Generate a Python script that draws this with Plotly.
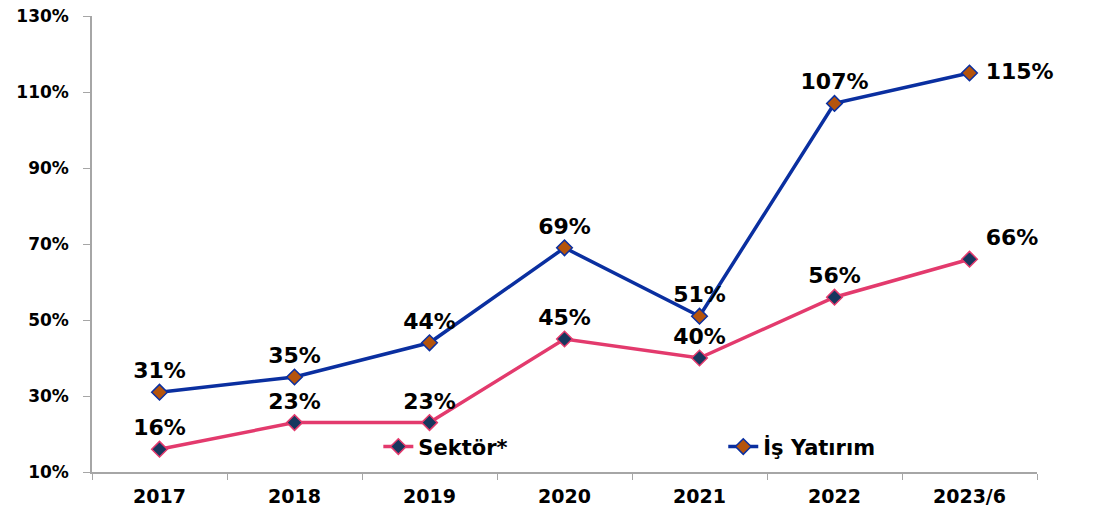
import plotly.graph_objects as go

years = ["2017", "2018", "2019", "2020", "2021", "2022", "2023/6"]
sektor = [16, 23, 23, 45, 40, 56, 66]
is_yatirim = [31, 35, 44, 69, 51, 107, 115]
y_ticks = [10, 30, 50, 70, 90, 110, 130]

FONT = "Verdana, DejaVu Sans, sans-serif"
PINK = "#E33A6D"
NAVY = "#17375E"
BLUE = "#0A2FA0"
ORANGE = "#B5540C"

sek_pos = ["top center"] * 6 + ["top right"]
is_pos = ["top center"] * 6 + ["middle right"]
LBL = dict(family=FONT, size=22, color="black", weight="bold")


def labels(vals):
    out = [f"{v}%" for v in vals]
    out[-1] = "\u00a0" + out[-1]
    return out


fig = go.Figure()
fig.add_trace(go.Scatter(
    x=years, y=sektor, name="Sektör*", mode="lines+markers+text",
    line=dict(color=PINK, width=3.5),
    marker=dict(symbol="diamond", size=12, color=NAVY, line=dict(color=PINK, width=1.5)),
    text=labels(sektor), textposition=sek_pos, textfont=LBL,
    cliponaxis=False, legend="legend",
))
fig.add_trace(go.Scatter(
    x=years, y=is_yatirim, name="İş Yatırım", mode="lines+markers+text",
    line=dict(color=BLUE, width=3.5),
    marker=dict(symbol="diamond", size=12, color=ORANGE, line=dict(color=BLUE, width=1.5)),
    text=labels(is_yatirim), textposition=is_pos, textfont=LBL,
    cliponaxis=False, legend="legend2",
))

LEG = dict(
    orientation="h", yanchor="middle", y=0.055, xanchor="left",
    font=dict(family=FONT, size=21, color="black", weight="bold"),
    bgcolor="rgba(0,0,0,0)",
)

fig.update_layout(
    width=1093, height=515,
    margin=dict(l=92, r=56, t=16, b=43, autoexpand=False),
    plot_bgcolor="white", paper_bgcolor="white",
    font=dict(family=FONT, color="black"),
    showlegend=True,
    legend=dict(LEG, x=0.303),
    legend2=dict(LEG, x=0.668),
    xaxis=dict(
        type="category", tickson="boundaries", ticks="outside", ticklen=6,
        tickcolor="#A6A6A6", showline=True, linecolor="#A6A6A6", linewidth=1.5,
        showgrid=False, tickfont=dict(family=FONT, size=19, color="black", weight="bold"),
        range=[-0.5, 6.5], automargin=False, ticklabelstandoff=6,
        ticklabeloverflow="allow",
    ),
    yaxis=dict(
        range=[10, 130], tickvals=y_ticks, ticktext=[f"{v}%" for v in y_ticks],
        ticks="outside", ticklen=7, tickcolor="#A6A6A6", showline=True,
        linecolor="#A6A6A6", linewidth=1.5, showgrid=False, zeroline=False,
        tickfont=dict(family=FONT, size=17, color="black", weight="bold"),
        automargin=False, ticklabelstandoff=11, ticklabeloverflow="allow",
    ),
)

fig.write_html(
    "out.html",
    config={"displayModeBar": False},
    post_script="document.body.style.margin='0';document.body.style.overflow='hidden';",
)
